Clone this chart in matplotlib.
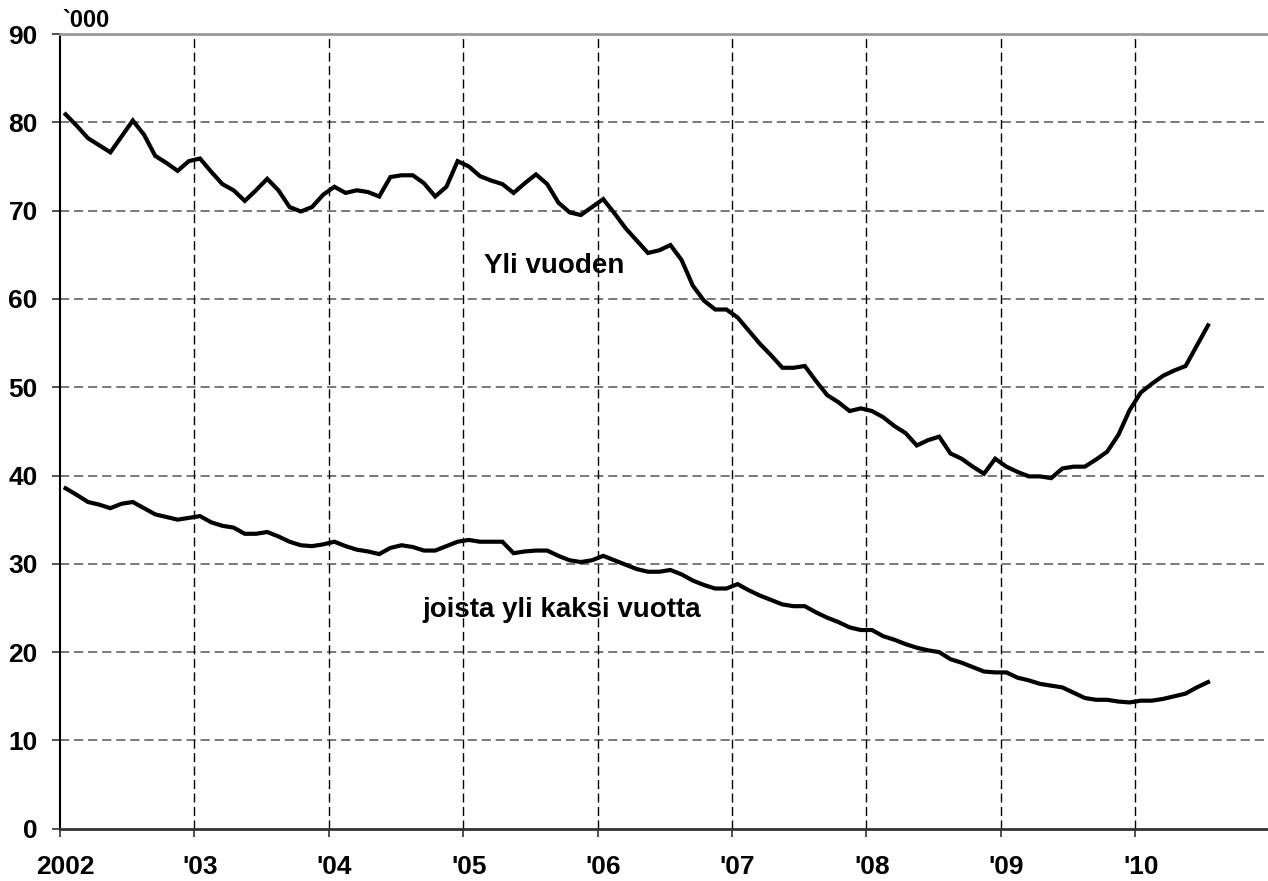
import matplotlib
matplotlib.use("Agg")
import matplotlib.pyplot as plt
import numpy as np

# ---- data (thousands), monthly Jan 2002 .. Jul 2010 ----
start_year = 2002
yli_vuoden = [
    80.9, 79.6, 78.2, 77.4, 76.6, 78.4, 80.2, 78.6, 76.2, 75.4, 74.5, 75.6,
    75.9, 74.4, 73.0, 72.3, 71.1, 72.3, 73.6, 72.3, 70.4, 69.9, 70.4, 71.8,
    72.7, 72.0, 72.3, 72.1, 71.6, 73.8, 74.0, 74.0, 73.1, 71.6, 72.7, 75.6,
    75.0, 73.9, 73.4, 73.0, 72.0, 73.1, 74.1, 73.0, 70.9, 69.8, 69.5, 70.4,
    71.3, 69.7, 68.0, 66.6, 65.2, 65.5, 66.1, 64.4, 61.5, 59.8, 58.8, 58.8,
    57.9, 56.4, 54.9, 53.6, 52.2, 52.2, 52.4, 50.7, 49.1, 48.3, 47.3, 47.6,
    47.3, 46.6, 45.6, 44.8, 43.4, 44.0, 44.4, 42.5, 41.9, 41.0, 40.2, 41.9,
    41.0, 40.4, 39.9, 39.9, 39.7, 40.8, 41.0, 41.0, 41.8, 42.7, 44.6, 47.4,
    49.4, 50.4, 51.3, 51.9, 52.4, 54.7, 57.0,
]
yli_kaksi = [
    38.55, 37.8, 37.0, 36.7, 36.3, 36.8, 37.0, 36.3, 35.6, 35.3, 35.0, 35.2,
    35.4, 34.7, 34.3, 34.1, 33.4, 33.4, 33.6, 33.1, 32.5, 32.1, 32.0, 32.2,
    32.5, 32.0, 31.6, 31.4, 31.1, 31.8, 32.1, 31.9, 31.5, 31.5, 32.0, 32.5,
    32.7, 32.5, 32.5, 32.5, 31.2, 31.4, 31.5, 31.5, 30.9, 30.4, 30.2, 30.4,
    30.9, 30.4, 29.9, 29.4, 29.1, 29.1, 29.3, 28.8, 28.1, 27.6, 27.2, 27.2,
    27.7, 27.0, 26.4, 25.9, 25.4, 25.2, 25.2, 24.5, 23.9, 23.4, 22.8, 22.5,
    22.5, 21.8, 21.4, 20.9, 20.5, 20.2, 20.0, 19.2, 18.8, 18.3, 17.8, 17.7,
    17.7, 17.1, 16.8, 16.4, 16.2, 16.0, 15.4, 14.8, 14.6, 14.6, 14.4, 14.3,
    14.5, 14.5, 14.7, 15.0, 15.3, 16.0, 16.6,
]
year_labels = ["2002", "'03", "'04", "'05", "'06", "'07", "'08", "'09", "'10"]
y_ticks = [0, 10, 20, 30, 40, 50, 60, 70, 80, 90]
unit_label = "`000"
label_upper = "Yli vuoden"
label_lower = "joista yli kaksi vuotta"

plt.rcParams['font.family'] = ['Liberation Sans', 'DejaVu Sans']
plt.rcParams['font.weight'] = 'bold'

W, H = 1268, 881
fig = plt.figure(figsize=(W / 100, H / 100), dpi=100)
left_px, right_px, top_px, bottom_px = 60, 1269.6, 34, 828.7
ax = fig.add_axes([left_px / W, (H - bottom_px) / H,
                   (right_px - left_px) / W, (bottom_px - top_px) / H])

x = start_year + (np.arange(len(yli_vuoden)) + 0.5) / 12.0
ax.plot(x, yli_vuoden, color='black', lw=3.0, solid_joinstyle='miter', zorder=3)
ax.plot(x, yli_kaksi, color='black', lw=3.0, solid_joinstyle='miter', zorder=3)

ax.set_xlim(start_year, start_year + 9)
ax.set_ylim(0, 90)

# grid lines
for yv in y_ticks[1:-1]:
    ax.axhline(yv, color='#555555', lw=1.1, dashes=(6, 3.2), zorder=1)
for k in range(1, 9):
    ax.axvline(start_year + k, color='black', lw=1.0, dashes=(6.5, 3.2), zorder=1)

# spines
for s in ax.spines.values():
    s.set_visible(False)
ax.spines['left'].set_visible(True)
ax.spines['left'].set_color('black')
ax.spines['left'].set_linewidth(1.5)
ax.spines['bottom'].set_visible(True)
ax.spines['bottom'].set_color('#333333')
ax.spines['bottom'].set_linewidth(2.0)
ax.spines['top'].set_visible(True)
ax.spines['top'].set_color('#999999')
ax.spines['top'].set_linewidth(2.0)

# y ticks
ax.set_yticks(y_ticks)
ax.set_yticklabels([str(v) for v in y_ticks], fontsize=19, fontweight='bold')
ax.tick_params(axis='y', direction='out', length=6, width=1.2, pad=10, color='#333333')

# x ticks: major at year boundaries (no labels), minor for labels at January
ax.set_xticks([start_year + k for k in range(10)])
ax.set_xticklabels([])
ax.tick_params(axis='x', which='major', direction='out', length=6, width=1.2, color='#333333')
ax.set_xticks([start_year + k + 0.5 / 12 for k in range(len(year_labels))], minor=True)
ax.set_xticklabels(year_labels, minor=True, fontsize=19, fontweight='bold')
ax.tick_params(axis='x', which='minor', length=0, pad=19)

ax.text(start_year + 3.676, 63.7, label_upper, ha='center', va='center',
        fontsize=20, fontweight='bold')
ax.text(start_year + 3.731, 24.8, label_lower, ha='center', va='center',
        fontsize=20, fontweight='bold')
fig.text(62 / W, (H - 27) / H, unit_label, ha='left', va='baseline',
         fontsize=17, fontweight='bold')

fig.savefig('out.png', dpi=100)
